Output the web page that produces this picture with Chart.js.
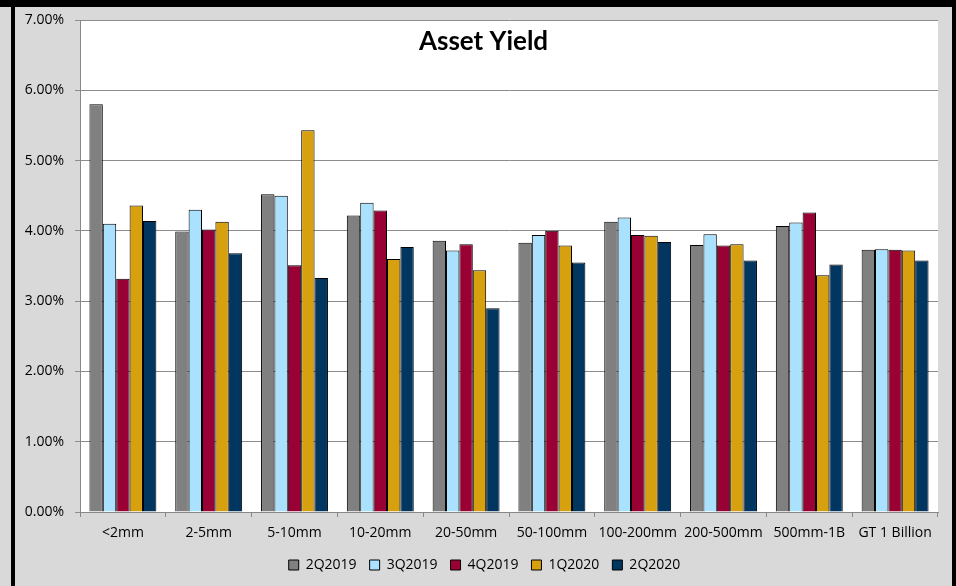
<!DOCTYPE html>
<html>
<head>
<meta charset="utf-8">
<script src="https://cdn.jsdelivr.net/npm/chart.js@4"></script>
<style>
  html, body { margin: 0; padding: 0; }
  body { width: 956px; height: 586px; background: #d9d9d9; position: relative; overflow: hidden; }
  .bar-top { position: absolute; left: 0; top: 0; width: 956px; height: 7px; background: #000; }
  .bar-left { position: absolute; left: 11px; top: 0; width: 4px; height: 586px; background: #000; }
  .bar-right { position: absolute; left: 952px; top: 0; width: 4px; height: 586px; background: #000; }
  #wrap { position: absolute; left: 15px; top: 7px; width: 937px; height: 579px; }
</style>
</head>
<body>
<div class="bar-top"></div>
<div class="bar-left"></div>
<div class="bar-right"></div>
<div id="wrap"><canvas id="chart"></canvas></div>
<script>
// categories and series
const categories = ['<2mm', '2-5mm', '5-10mm', '10-20mm', '20-50mm', '50-100mm', '100-200mm', '200-500mm', '500mm-1B', 'GT 1 Billion'];
const q2_2019 = [5.80, 3.99, 4.52, 4.22, 3.86, 3.83, 4.13, 3.80, 4.07, 3.73];
const q3_2019 = [4.10, 4.30, 4.50, 4.40, 3.72, 3.94, 4.19, 3.95, 4.12, 3.74];
const q4_2019 = [3.32, 4.02, 3.51, 4.29, 3.81, 4.00, 3.94, 3.79, 4.26, 3.73];
const q1_2020 = [4.36, 4.13, 5.43, 3.60, 3.44, 3.79, 3.93, 3.81, 3.37, 3.72];
const q2_2020 = [4.14, 3.68, 3.33, 3.77, 2.90, 3.55, 3.84, 3.58, 3.52, 3.58];
const seriesNames = ['2Q2019', '3Q2019', '4Q2019', '1Q2020', '2Q2020'];
const seriesColors = ['#808080', '#a9e1ff', '#990033', '#d6a00f', '#003660'];

const FONT = '"Open Sans", sans-serif';

const titlePlugin = {
    id: 'plotTitle',
    afterDraw(chart) {
        const ctx = chart.ctx;
        ctx.save();
        ctx.font = 'bold 26px Lato, sans-serif';
        ctx.fillStyle = '#000';
        ctx.textAlign = 'center';
        ctx.textBaseline = 'alphabetic';
        ctx.fillText('Asset Yield', chart.width / 2, 43);
        ctx.restore();
    }
};

const plotBg = {
    id: 'plotBg',
    beforeDraw(chart) {
        const a = chart.chartArea;
        const ctx = chart.ctx;
        ctx.save();
        ctx.fillStyle = '#ffffff';
        ctx.fillRect(a.left, a.top, a.right - a.left, a.bottom - a.top);
        ctx.restore();
    }
};

// nudge the legend a little to the right, as in the original
const legendShift = {
    id: 'legendShift',
    afterLayout(chart) {
        if (chart.legend) {
            chart.legend.left += 8;
            chart.legend.right += 8;
        }
    }
};

const data = [q2_2019, q3_2019, q4_2019, q1_2020, q2_2020];

new Chart(document.getElementById('chart').getContext('2d'), {
    type: 'bar',
    data: {
        labels: categories,
        datasets: seriesNames.map((name, i) => ({
            label: name,
            data: data[i],
            backgroundColor: seriesColors[i],
            borderColor: '#000',
            borderWidth: 1,
            categoryPercentage: 0.78,
            barPercentage: 1.0
        }))
    },
    options: {
        responsive: true,
        maintainAspectRatio: false,
        animation: false,
        layout: { padding: { left: 0, right: 14, top: 0, bottom: 4 } },
        plugins: {
            legend: {
                position: 'bottom',
                labels: {
                    boxWidth: 10,
                    boxHeight: 10,
                    padding: 13,
                    color: '#000',
                    font: { family: FONT, size: 14 }
                }
            },
            tooltip: { enabled: false }
        },
        scales: {
            x: {
                grid: { display: true, drawOnChartArea: false, offset: true, tickLength: 5, color: '#888' },
                border: { color: '#888' },
                ticks: { color: '#000', padding: 8, maxRotation: 0, autoSkip: false, font: { family: FONT, size: 14 } },
                afterFit(scale) { scale.height = 33; }
            },
            y: {
                min: 0,
                max: 7,
                grid: { color: '#8c8c8c', tickLength: 5 },
                border: { color: '#888' },
                ticks: {
                    stepSize: 1,
                    color: '#000',
                    padding: 11,
                    font: { family: FONT, size: 14 },
                    callback: v => v.toFixed(2) + '%'
                },
                afterFit(scale) {
                    scale.width = 65;
                    scale.paddingTop = 13;
                }
            }
        }
    },
    plugins: [plotBg, titlePlugin, legendShift]
});
</script>
</body>
</html>
